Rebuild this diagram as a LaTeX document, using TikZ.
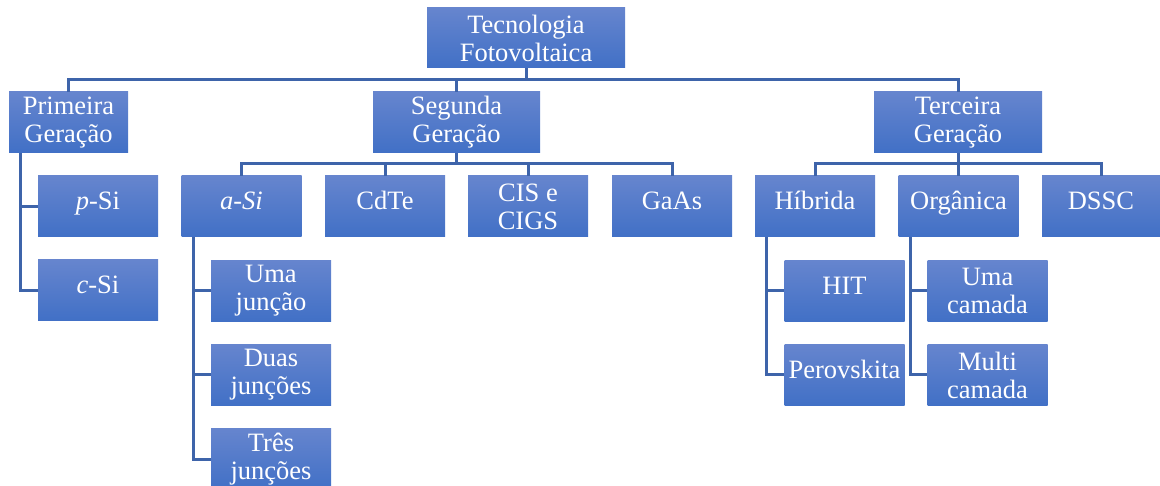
\documentclass[tikz,border=0pt]{standalone}
\usepackage{fontspec}
\setmainfont{Liberation Serif}
\usetikzlibrary{positioning,calc}
\definecolor{boxtop}{RGB}{102,133,206}
\definecolor{boxbot}{RGB}{65,112,198}
\definecolor{linkcol}{RGB}{62,100,170}
\tikzset{
  box/.style={rectangle, top color=boxtop, bottom color=boxbot, draw=none,
    text=white, align=center, inner sep=0pt, minimum width=120pt, minimum height=61pt,
    font=\fontsize{26.5}{28}\selectfont},
  onebox/.style={box, text height=19pt, text depth=12pt},
  link/.style={draw=linkcol, line width=3pt},
}
\begin{document}
\begin{tikzpicture}[x=1pt, y=-1pt]
  \useasboundingbox (0,0) rectangle (1160,486);
  % root and generations
  \node[box, minimum width=198pt, minimum height=60pt] (root) at (526,38) {Tecnologia\\Fotovoltaica};
  \node[box, minimum width=119pt] (pg) at (68.5,122.5) {Primeira\\Geração};
  \node[box, minimum width=167pt] (sg) at (456.5,122.5) {Segunda\\Geração};
  \node[box, minimum width=168pt] (tg) at (958,122.5) {Terceira\\Geração};
  % first generation
  \node[onebox] (psi) at (98,206.5) {\textit{p}-Si};
  \node[onebox] (csi) at (98,290.5) {\textit{c}-Si};
  % second generation
  \node[onebox] (asi) at (241.5,206.5) {\textit{a-Si}};
  \node[onebox] (cdte) at (385,206.5) {CdTe};
  \node[box] (cis) at (528,206.5) {CIS e\\CIGS};
  \node[onebox] (gaas) at (672,206.5) {GaAs};
  \node[box] (uj) at (271,291) {Uma\\junção};
  \node[box] (dj) at (271,375) {Duas\\junções};
  \node[box] (tj) at (271,459) {Três\\junções};
  % third generation
  \node[onebox] (hib) at (815,206.5) {Híbrida};
  \node[onebox] (org) at (958.5,206.5) {Orgânica};
  \node[onebox, minimum width=118pt] (dssc) at (1101,206.5) {DSSC};
  \node[onebox] (hit) at (844.5,291) {HIT};
  \node[onebox] (per) at (844.5,375) {Perovskita};
  \node[box] (uc) at (987.5,291) {Uma\\camada};
  \node[box] (mc) at (987.5,375) {Multi\\camada};
  % connectors
  \coordinate (bus1) at (526,80);
  \coordinate (bus2) at (456.5,164);
  \coordinate (bus3) at (958,164);
  \draw[link] (root.south) -- (bus1);
  \draw[link] (pg.north) |- (bus1) -| (tg.north);
  \draw[link] (sg.north) -- (sg.north |- bus1);
  \draw[link] (sg.south) -- (bus2);
  \draw[link] (asi.north) |- (bus2) -| (gaas.north);
  \draw[link] (cdte.north) -- (cdte.north |- bus2);
  \draw[link] (cis.north) -- (cis.north |- bus2);
  \draw[link] (tg.south) -- (bus3);
  \draw[link] (hib.north) |- (bus3) -| (dssc.north);
  \draw[link] (org.north) -- (org.north |- bus3);
  \coordinate (pgl) at ($(pg.south west)+(12,0)$);
  \draw[link] (pgl) |- (csi.west);
  \draw[link] (pgl |- psi.west) -- (psi.west);
  \coordinate (asl) at ($(asi.south west)+(12,0)$);
  \draw[link] (asl) |- (tj.west);
  \draw[link] (asl |- uj.west) -- (uj.west);
  \draw[link] (asl |- dj.west) -- (dj.west);
  \coordinate (hbl) at ($(hib.south west)+(12,0)$);
  \draw[link] (hbl) |- (per.west);
  \draw[link] (hbl |- hit.west) -- (hit.west);
  \coordinate (orl) at ($(org.south west)+(12,0)$);
  \draw[link] (orl) |- (mc.west);
  \draw[link] (orl |- uc.west) -- (uc.west);
\end{tikzpicture}
\end{document}
